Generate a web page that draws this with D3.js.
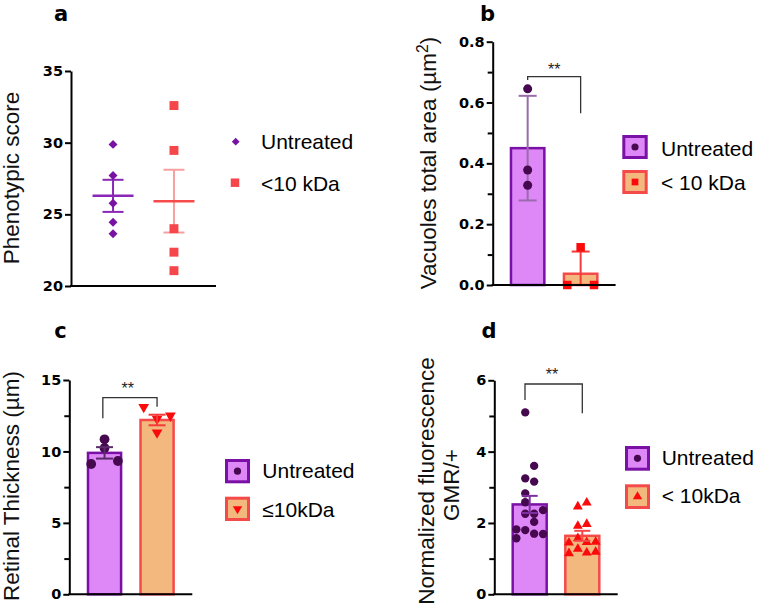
<!DOCTYPE html>
<html><head><meta charset="utf-8">
<script src="https://cdn.jsdelivr.net/npm/d3@7"></script>
<style>body{margin:0;background:#fff}</style>
</head><body>
<svg id="chart" width="762" height="614"></svg>
<script>
// ---------- DATA ----------
// Panel a: phenotypic score (individual points, mean, SEM)
const groupsA = ["Untreated", "<10 kDa"];
const scoreUntreated = [29.88, 27.71, 25.78, 24.45, 23.64];
const scoreKDa = [32.59, 29.46, 24.0, 22.36, 21.07];
const scoreMean = [26.29, 25.92];
const scoreSEM = [1.12, 2.19];
const ticksA = [20, 25, 30, 35];

// Panel b: vacuoles total area (mean ± SD)
const groupsB = ["Untreated", "< 10 kDa"];
const vacUntreated = [0.645, 0.378, 0.328];
const vacUntreatedCol = [0, 0, 0];
const vacKDa = [0.124, 0.0, 0.0];
const vacKDaCol = [0, -1.5, 1.5];
const vacMean = [0.45, 0.037];
const vacSD = [0.172, 0.073];
const ticksB = [0, 0.2, 0.4, 0.6, 0.8];
const minorB = [0.1, 0.3, 0.5, 0.7];

// Panel c: retinal thickness (mean ± SEM)
const groupsC = ["Untreated", "\u226410kDa"];
const thickUntreated = [10.85, 10.24, 9.12, 9.33];
const thickUntreatedCol = [0, 0, -1.5, 1.5];
const thickKDa = [13.1, 12.28, 12.5, 11.32];
const thickKDaCol = [-1.5, 0, 1.5, 0];
const thickMean = [9.9, 12.2];
const thickSEM = [0.4, 0.37];
const ticksC = [0, 5, 10, 15];
const minorC = [2.5, 7.5, 12.5];

// Panel d: normalized fluorescence (mean ± SEM)
const groupsD = ["Untreated", "< 10kDa"];
const fluorUntreated = [5.10, 3.60, 3.25, 3.16, 2.83, 2.58, 2.26, 2.26, 2.36, 2.03, 1.82, 1.80, 1.70, 1.69, 1.57];
const fluorUntreatedCol = [-0.5, 0.5, -0.5, 0.5, -0.5, -0.5, -0.5, 0.5, 1.5, 0.5, -1.5, -0.5, 0.5, 1.5, -1.5];
const fluorKDa = [2.46, 2.57, 1.92, 1.97, 1.57, 1.45, 1.46, 1.47, 1.27, 1.15, 1.17, 1.19];
const fluorKDaCol = [-0.5, 0.5, -0.5, 0.5, -0.5, -1.5, 0.5, 1.5, -0.5, -1.5, 0.5, 1.5];
const fluorMean = [2.52, 1.64];
const fluorSEM = [0.24, 0.14];
const ticksD = [0, 2, 4, 6];
const minorD = [1, 3, 5];

// ---------- STYLE ----------
const FONT = "'Liberation Sans', Arial, sans-serif";
const TICKFONT = "'DejaVu Sans', sans-serif";
const PURPLE_FILL = "#DD88F6", PURPLE_STROKE = "#7A10A6", DOT_PURPLE = "#46084F";
const ORANGE_FILL = "#F2B87E", ORANGE_STROKE = "#F54A4A", RED = "#FA0A0A";
const SPACING = 8.9;

const svg = d3.select("#chart");

function yAxis(y, x0, major, minor, fmt) {
  const ax = svg.append("g").attr("transform", `translate(${x0},0)`);
  ax.call(d3.axisLeft(y).tickValues(major).tickSize(6).tickPadding(2).tickSizeOuter(0).tickFormat(fmt));
  ax.select(".domain").attr("stroke", "#000").attr("stroke-width", 2);
  ax.selectAll(".tick line").attr("stroke", "#000").attr("stroke-width", 2);
  ax.selectAll(".tick text").attr("font-family", TICKFONT).attr("font-weight", "bold")
    .attr("font-size", 14.5).attr("fill", "#000");
  if (minor && minor.length) {
    const mx = svg.append("g").attr("transform", `translate(${x0},0)`);
    mx.call(d3.axisLeft(y).tickValues(minor).tickSize(5).tickSizeOuter(0).tickFormat(() => ""));
    mx.select(".domain").remove();
    mx.selectAll(".tick line").attr("stroke", "#000").attr("stroke-width", 2);
  }
}
function xLine(x0, x1, yPix) {
  svg.append("line").attr("x1", x0 - 1).attr("x2", x1).attr("y1", yPix).attr("y2", yPix)
    .attr("stroke", "#000").attr("stroke-width", 2);
}
function yLabel(lines, size) {
  lines.forEach(l => {
    const t = svg.append("text").attr("transform", `translate(${l.x},${l.cy}) rotate(-90)`)
      .attr("text-anchor", "middle").attr("font-family", FONT).attr("font-size", size || 22.5).attr("fill", "#111");
    if (l.parts) l.parts.forEach(p => {
      const ts = t.append("tspan").text(p.t);
      if (p.sup) ts.attr("baseline-shift", "super").attr("font-size", (size || 22.5) * 0.7);
    });
    else t.text(l.text);
  });
}
function panelLetter(txt, x, y) {
  svg.append("text").attr("x", x).attr("y", y).attr("text-anchor", "middle")
    .attr("font-family", TICKFONT).attr("font-weight", "bold").attr("font-size", 21).attr("fill", "#000").text(txt);
}
function errBar(cx, y, mean, err, capW, color, lw, clipZero) {
  const lo = clipZero ? Math.max(0, mean - err) : mean - err;
  const hi = mean + err;
  const g = svg.append("g").attr("stroke", color).attr("stroke-width", lw || 2);
  g.append("line").attr("x1", cx).attr("x2", cx).attr("y1", y(lo)).attr("y2", y(hi));
  g.append("line").attr("x1", cx - capW / 2).attr("x2", cx + capW / 2).attr("y1", y(hi)).attr("y2", y(hi));
  if (!clipZero || mean - err > 0)
    g.append("line").attr("x1", cx - capW / 2).attr("x2", cx + capW / 2).attr("y1", y(lo)).attr("y2", y(lo));
}
function bars(x, y, groups, means, fills, strokes) {
  svg.append("g").selectAll("rect").data(groups).join("rect")
    .attr("x", d => x(d)).attr("width", x.bandwidth())
    .attr("y", (d, i) => y(means[i])).attr("height", (d, i) => y(0) - y(means[i]))
    .attr("fill", (d, i) => fills[i]).attr("stroke", (d, i) => strokes[i]).attr("stroke-width", 2.5);
}
function points(cx, y, vals, cols, symType, size, color, rot) {
  const sym = d3.symbol().type(symType).size(size);
  svg.append("g").selectAll("path").data(vals).join("path")
    .attr("d", sym)
    .attr("transform", (d, i) => `translate(${cx + (cols ? cols[i] : 0) * SPACING},${y(d)})${rot ? " rotate(" + rot + ")" : ""}`)
    .attr("fill", color);
}
function bracket(x1, x2, yTop, yL, yR, starX, starY) {
  svg.append("path").attr("d", `M${x1},${yL}V${yTop}H${x2}V${yR}`)
    .attr("fill", "none").attr("stroke", "#333").attr("stroke-width", 1.3);
  svg.append("text").attr("x", starX).attr("y", starY).attr("text-anchor", "middle")
    .attr("font-family", FONT).attr("font-size", 16).attr("fill", "#222").text("**");
}
function legendText(x, y, txt) {
  svg.append("text").attr("x", x).attr("y", y).attr("font-family", FONT).attr("font-size", 21)
    .attr("fill", "#000").text(txt);
}
function legendBox(x, y, w, h, fill, stroke, symType, symColor, symSize, rot) {
  svg.append("rect").attr("x", x + 1.5).attr("y", y + 1.5).attr("width", w - 3).attr("height", h - 3)
    .attr("fill", fill).attr("stroke", stroke).attr("stroke-width", 3);
  svg.append("path").attr("d", d3.symbol().type(symType).size(symSize)())
    .attr("transform", `translate(${x + w / 2},${y + h / 2})${rot ? " rotate(" + rot + ")" : ""}`)
    .attr("fill", symColor);
}
const triDown = {
  draw(ctx, size) {
    const s = Math.sqrt(size / (Math.sqrt(3) / 4));
    const h = s * Math.sqrt(3) / 2;
    ctx.moveTo(-s / 2, -h / 3); ctx.lineTo(s / 2, -h / 3); ctx.lineTo(0, 2 * h / 3); ctx.closePath();
  }
};

// ---------- PANEL A ----------
{
  const y = d3.scaleLinear().domain([20, 35]).range([286, 71]);
  const x = d3.scalePoint().domain(groupsA).range([71, 216]).padding(0.69);
  yAxis(y, 71, ticksA, [], d3.format("d"));
  xLine(71, 216, 286);
  panelLetter("a", 61, 21);
  yLabel([{ text: "Phenotypic score", x: 19, cy: 178 }]);
  const cols = ["#8A27B6", "#F74A4A"];
  const errCols = ["#8A27B6", "#F7A0A0"];
  groupsA.forEach((g, i) => {
    const cx = x(g);
    errBar(cx, y, scoreMean[i], scoreSEM[i], 21, errCols[i], 2);
    svg.append("line").attr("x1", cx - 20.5).attr("x2", cx + 20.5)
      .attr("y1", y(scoreMean[i])).attr("y2", y(scoreMean[i])).attr("stroke", cols[i]).attr("stroke-width", 2.5);
  });
  points(x(groupsA[0]), y, scoreUntreated, null, d3.symbolSquare, 40, "#7712A3", 45);
  points(x(groupsA[1]), y, scoreKDa, null, d3.symbolSquare, 80, "#F5464B");
  svg.append("path").attr("d", d3.symbol().type(d3.symbolSquare).size(30)())
    .attr("transform", "translate(235.7,141.7) rotate(45)").attr("fill", "#7712A3");
  svg.append("path").attr("d", d3.symbol().type(d3.symbolSquare).size(72)())
    .attr("transform", "translate(235,182.7)").attr("fill", "#F5464B");
  legendText(261, 148.5, "Untreated");
  legendText(261, 190.5, "<10 kDa");
}

// ---------- PANEL B ----------
{
  const y = d3.scaleLinear().domain([0, 0.8]).range([285, 41.7]);
  const x = d3.scaleBand().domain(groupsB).range([492.7, 615.6]).paddingInner(0.37).paddingOuter(0.345);
  bars(x, y, groupsB, vacMean, [PURPLE_FILL, ORANGE_FILL], [PURPLE_STROKE, ORANGE_STROKE]);
  const c0 = x(groupsB[0]) + x.bandwidth() / 2, c1 = x(groupsB[1]) + x.bandwidth() / 2;
  errBar(c0, y, vacMean[0], vacSD[0], 18, "#9A6BAC", 2);
  errBar(c1, y, vacMean[1], vacSD[1], 18, "#F53A3A", 2, true);
  points(c0, y, vacUntreated, vacUntreatedCol, d3.symbolCircle, 64, DOT_PURPLE);
  points(c1, y, vacKDa, vacKDaCol, d3.symbolSquare, 72, RED);
  yAxis(y, 492.7, ticksB, minorB, d3.format(".1f"));
  xLine(492.7, 615.6, 285);
  panelLetter("b", 487.5, 21);
  yLabel([{ parts: [{ t: "Vacuoles total area (\u00b5m" }, { t: "2", sup: true }, { t: ")" }], x: 436, cy: 163 }]);
  bracket(c0, c1, 76.7, 80, 113.3, (c0 + c1) / 2, 75);
  legendBox(622.3, 135, 25.4, 24, PURPLE_FILL, PURPLE_STROKE, d3.symbolCircle, DOT_PURPLE, 40);
  legendBox(622.3, 170, 25.4, 24, ORANGE_FILL, ORANGE_STROKE, d3.symbolSquare, RED, 45);
  legendText(661, 155.5, groupsB[0]);
  legendText(661, 190, groupsB[1]);
}

// ---------- PANEL C ----------
{
  const y = d3.scaleLinear().domain([0, 15]).range([594.3, 380]);
  const x = d3.scaleBand().domain(groupsC).range([69.3, 192.3]).paddingInner(0.37).paddingOuter(0.356);
  bars(x, y, groupsC, thickMean, [PURPLE_FILL, ORANGE_FILL], [PURPLE_STROKE, ORANGE_STROKE]);
  const c0 = x(groupsC[0]) + x.bandwidth() / 2, c1 = x(groupsC[1]) + x.bandwidth() / 2;
  points(c0, y, thickUntreated, thickUntreatedCol, d3.symbolCircle, 75, DOT_PURPLE);
  points(c1, y, thickKDa, thickKDaCol, triDown, 50, RED);
  errBar(c0, y, thickMean[0], thickSEM[0], 17, "#5B2A6B", 2);
  errBar(c1, y, thickMean[1], thickSEM[1], 17, "#F53A3A", 2);
  yAxis(y, 69.3, ticksC, minorC, d3.format("d"));
  xLine(69.3, 192.3, 594.3);
  panelLetter("c", 60.5, 338);
  yLabel([{ text: "Retinal Thickness (\u00b5m)", x: 19, cy: 486 }]);
  bracket(c0 - 1.7, c1, 397.7, 418.3, 406.7, (c0 + c1) / 2 - 3, 394);
  legendBox(225, 459, 25, 24.3, PURPLE_FILL, PURPLE_STROKE, d3.symbolCircle, DOT_PURPLE, 40);
  legendBox(225, 496.7, 25, 24.3, ORANGE_FILL, ORANGE_STROKE, triDown, RED, 38);
  legendText(262.3, 478, groupsC[0]);
  legendText(262.3, 517, groupsC[1]);
}

// ---------- PANEL D ----------
{
  const y = d3.scaleLinear().domain([0, 6]).range([594.3, 380.3]);
  const x = d3.scaleBand().domain(groupsD).range([494.3, 617.7]).paddingInner(0.354).paddingOuter(0.35);
  bars(x, y, groupsD, fluorMean, [PURPLE_FILL, ORANGE_FILL], [PURPLE_STROKE, ORANGE_STROKE]);
  const c0 = x(groupsD[0]) + x.bandwidth() / 2, c1 = x(groupsD[1]) + x.bandwidth() / 2;
  points(c0, y, fluorUntreated, fluorUntreatedCol, d3.symbolCircle, 55, DOT_PURPLE);
  points(c1, y, fluorKDa, fluorKDaCol, d3.symbolTriangle, 42, RED);
  errBar(c0, y, fluorMean[0], fluorSEM[0], 16, "#7D2FA0", 2);
  errBar(c1, y, fluorMean[1], fluorSEM[1], 16, "#F54848", 2);
  yAxis(y, 494.3, ticksD, minorD, d3.format("d"));
  xLine(494.3, 617.7, 594.3);
  panelLetter("d", 489, 338);
  yLabel([{ text: "Normalized fluorescence", x: 434, cy: 481 }, { text: "GMR/+", x: 459, cy: 485 }]);
  bracket(c0 - 4.7, c1, 384, 400, 413.3, (c0 + c1) / 2 - 4, 380);
  legendBox(625, 446, 25, 24.7, PURPLE_FILL, PURPLE_STROKE, d3.symbolCircle, DOT_PURPLE, 40);
  legendBox(625, 484.3, 25, 24.7, ORANGE_FILL, ORANGE_STROKE, d3.symbolTriangle, RED, 38);
  legendText(661.7, 465, groupsD[0]);
  legendText(661.7, 503, groupsD[1]);
}
</script>
</body></html>
